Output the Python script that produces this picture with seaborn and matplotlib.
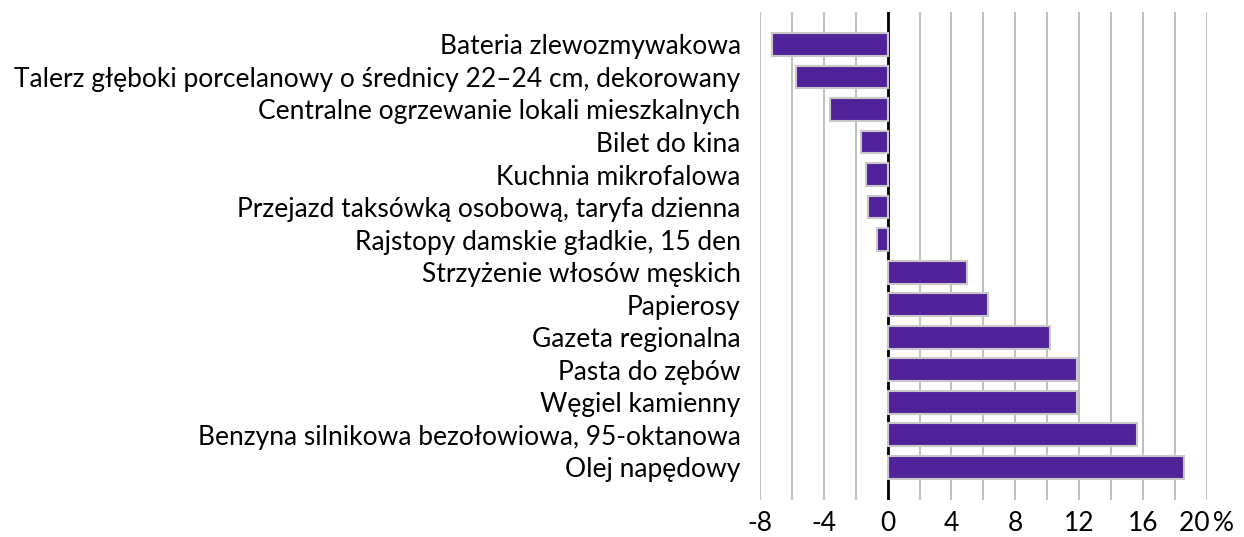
import pandas as pd
import matplotlib.pyplot as plt
import seaborn as sns
from matplotlib.ticker import MultipleLocator, FixedLocator

sns.set_theme(style='white')
plt.rcParams['font.family'] = ['Lato', 'DejaVu Sans']

produkty = [
    'Bateria zlewozmywakowa',
    'Talerz głęboki porcelanowy o średnicy 22–24 cm, dekorowany',
    'Centralne ogrzewanie lokali mieszkalnych',
    'Bilet do kina',
    'Kuchnia mikrofalowa',
    'Przejazd taksówką osobową, taryfa dzienna',
    'Rajstopy damskie gładkie, 15 den',
    'Strzyżenie włosów męskich',
    'Papierosy',
    'Gazeta regionalna',
    'Pasta do zębów',
    'Węgiel kamienny',
    'Benzyna silnikowa bezołowiowa, 95-oktanowa',
    'Olej napędowy',
]
zmiana = [-7.25, -5.75, -3.6, -1.65, -1.35, -1.25, -0.7,
          5.0, 6.3, 10.2, 11.9, 11.9, 15.6, 18.6]
ticks = [-8, -4, 0, 4, 8, 12, 16, 20]
tick_labels = ['-8', '-4', '0', '4', '8', '12', '16', '20\u2009%']

df = pd.DataFrame({'produkt': produkty, 'zmiana': zmiana})

fig = plt.figure(figsize=(12.44, 5.37), dpi=100)
ax = fig.add_axes([0.611, 0.069, 0.359, 0.909])

sns.barplot(data=df, x='zmiana', y='produkt', color='#52229a', saturation=1,
            edgecolor='#c8c8c8', linewidth=1.5, width=0.7, ax=ax, zorder=3)

ax.set_xlim(-8, 20)
ax.set_ylim(14.0, -1.0)
ax.xaxis.set_major_locator(FixedLocator(ticks))
ax.set_xticklabels(tick_labels)
ax.xaxis.set_minor_locator(MultipleLocator(2))
ax.grid(True, which='both', axis='x', color='#b4b4b4', linewidth=1.2, zorder=0)
ax.axvline(0, color='black', linewidth=2, zorder=2)
for s in ax.spines.values():
    s.set_visible(False)
ax.tick_params(axis='both', length=0, labelsize=19, colors='black')
ax.tick_params(axis='y', pad=14)
ax.tick_params(axis='x', pad=8)
ax.set_xlabel('')
ax.set_ylabel('')

plt.savefig('out.png', dpi=100)
